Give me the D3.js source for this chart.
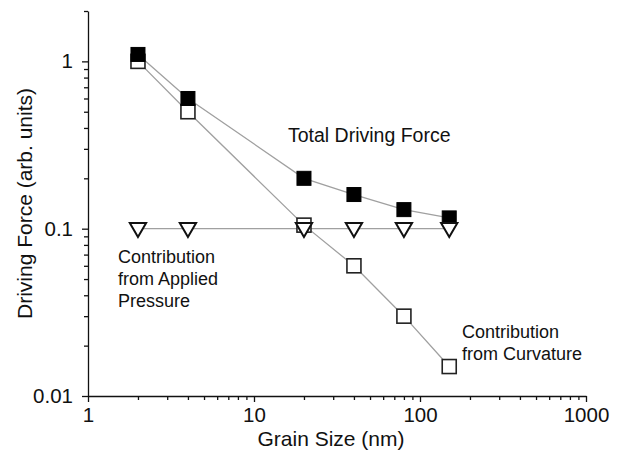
<!DOCTYPE html>
<html>
<head>
<meta charset="utf-8">
<script src="https://cdn.jsdelivr.net/npm/d3@7/dist/d3.min.js"></script>
<style>
  body { margin: 0; background: #fff; }
  svg { display: block; font-family: "Liberation Sans", Arial, sans-serif; }
  .tick text { font-size: 20.5px; fill: #111; }
  .ann { font-size: 18px; fill: #111; }
</style>
</head>
<body>
<script>
// grain size (nm) for every series
var grainSize = [2, 4, 20, 40, 80, 150];
// driving force values
var totalForce = [1.1, 0.6, 0.2, 0.16, 0.13, 0.116];
var curvatureForce = [1.0, 0.5, 0.105, 0.06, 0.03, 0.015];
var pressureForce = [0.1, 0.1, 0.1, 0.1, 0.1, 0.1];

var xMajor = [1, 10, 100, 1000];
var yMajor = [0.01, 0.1, 1];

var w = 617, h = 452;
var margin = {left: 88, right: 31, top: 11, bottom: 56};

var svg = d3.select("body").append("svg")
  .attr("width", w)
  .attr("height", h);

var x = d3.scaleLog().domain([1, 1000]).range([margin.left, w - margin.right]);
var y = d3.scaleLog().domain([0.01, 2]).range([h - margin.bottom, margin.top]);

// minor ticks 2..9 of every decade
function minors(lo, hi) {
  var out = [];
  for (var p = lo; p < hi; p++) {
    for (var k = 2; k <= 9; k++) out.push(k * Math.pow(10, p));
  }
  return out;
}
var xMinor = minors(0, 3);
var yMinor = minors(-2, 0).concat([2]);

var fmt = function(d) { return d3.format("~g")(d); };

// x axis
var gx = svg.append("g").attr("transform", "translate(0," + (h - margin.bottom) + ")");
gx.call(d3.axisBottom(x).tickValues(xMajor).tickFormat(fmt).tickSize(6).tickSizeOuter(0).tickPadding(5));
gx.append("g").call(d3.axisBottom(x).tickValues(xMinor).tickFormat("").tickSize(4).tickSizeOuter(0))
  .select(".domain").remove();

// y axis
var gy = svg.append("g").attr("transform", "translate(" + margin.left + ",0)");
gy.call(d3.axisLeft(y).tickValues(yMajor).tickFormat(fmt).tickSize(6).tickSizeOuter(0).tickPadding(9));
gy.append("g").call(d3.axisLeft(y).tickValues(yMinor).tickFormat("").tickSize(4).tickSizeOuter(0))
  .select(".domain").remove();

svg.selectAll(".domain, .tick line").attr("stroke", "#111").attr("stroke-width", 1.3);

// axis titles
svg.append("text")
  .attr("x", 331)
  .attr("y", 446)
  .attr("text-anchor", "middle")
  .style("font-size", "21px")
  .attr("fill", "#111")
  .text("Grain Size (nm)");

svg.append("text")
  .attr("transform", "rotate(-90)")
  .attr("x", -(y.range()[0] + y.range()[1]) / 2)
  .attr("y", 32)
  .attr("text-anchor", "middle")
  .style("font-size", "21px")
  .attr("fill", "#111")
  .text("Driving Force (arb. units)");

function seriesData(vals) {
  return grainSize.map(function(g, i) { return {x: g, y: vals[i]}; });
}

var line = d3.line()
  .x(function(d) { return x(d.x); })
  .y(function(d) { return y(d.y); });

var lineColor = "#a0a0a0";

// connecting lines first, markers on top
[curvatureForce, totalForce, pressureForce].forEach(function(vals) {
  svg.append("path")
    .datum(seriesData(vals))
    .attr("d", line)
    .attr("fill", "none")
    .attr("stroke", lineColor)
    .attr("stroke-width", 1.3);
});

var sq = 14;

svg.append("g").selectAll("rect")
  .data(seriesData(curvatureForce))
  .enter().append("rect")
  .attr("x", function(d) { return x(d.x) - sq / 2; })
  .attr("y", function(d) { return y(d.y) - sq / 2; })
  .attr("width", sq).attr("height", sq)
  .attr("fill", "#fff")
  .attr("stroke", "#222")
  .attr("stroke-width", 1.6);

svg.append("g").selectAll("rect")
  .data(seriesData(totalForce))
  .enter().append("rect")
  .attr("x", function(d) { return x(d.x) - sq / 2; })
  .attr("y", function(d) { return y(d.y) - sq / 2; })
  .attr("width", sq).attr("height", sq)
  .attr("fill", "#000")
  .attr("stroke", "#000")
  .attr("stroke-width", 1);

var tri = d3.symbol().type(d3.symbolTriangle).size(115);

svg.append("g").selectAll("path")
  .data(seriesData(pressureForce))
  .enter().append("path")
  .attr("d", tri)
  .attr("transform", function(d) { return "translate(" + x(d.x) + "," + (y(d.y) - 1) + ") rotate(180)"; })
  .attr("fill", "#fff")
  .attr("stroke", "#111")
  .attr("stroke-width", 2);

// labels next to the curves
function label(lines, lx, ly, size) {
  var t = svg.append("text").attr("class", "ann").attr("x", lx).attr("y", ly);
  if (size) t.style("font-size", size + "px");
  lines.forEach(function(s, i) {
    t.append("tspan").attr("x", lx).attr("dy", i === 0 ? 0 : 22).text(s);
  });
}
label(["Total Driving Force"], 288, 142, 19.5);
label(["Contribution", "from Applied", "Pressure"], 118, 263);
label(["Contribution", "from Curvature"], 462, 338);
</script>
</body>
</html>
